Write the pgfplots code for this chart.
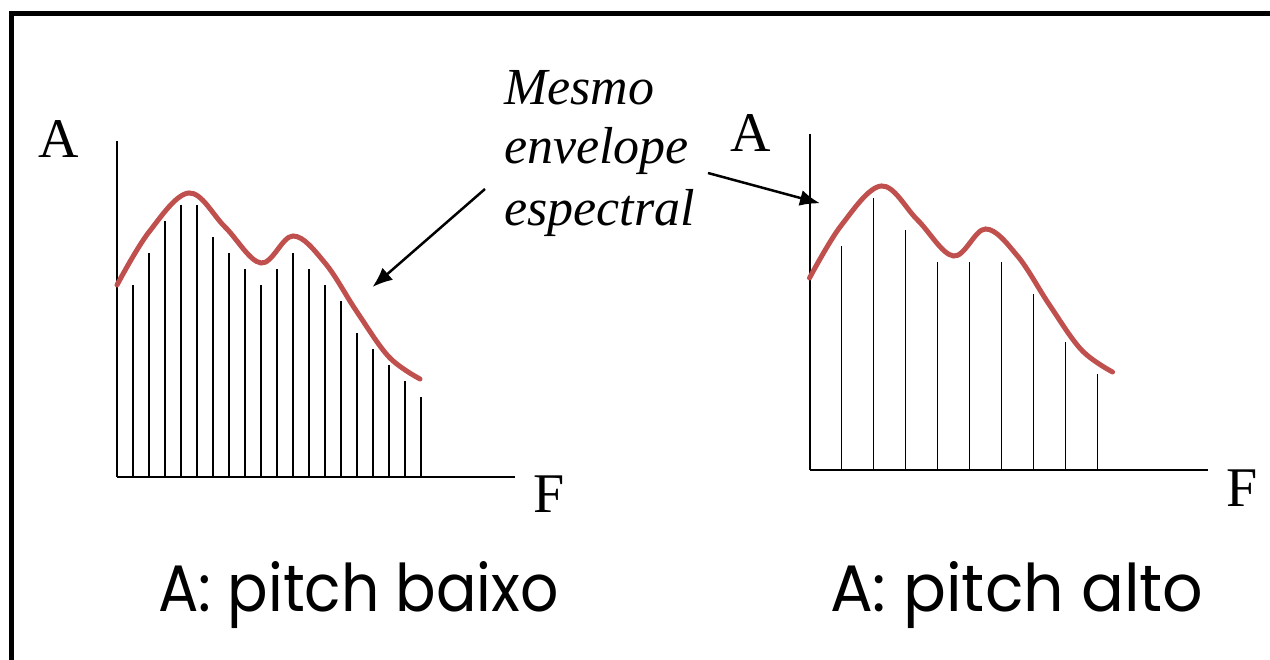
\documentclass[border=0pt]{standalone}
\usepackage{pgfplots}
\pgfplotsset{compat=1.18}
\usetikzlibrary{arrows.meta}
\usepackage{fontspec}
\setmainfont{Liberation Serif}
\newfontfamily\handfont{Poppins}
\definecolor{envred}{HTML}{C0504D}

\pgfplotsset{
  spectrum/.style={
    scale only axis, width=398bp, height=336bp,
    xmin=0, xmax=398, ymin=0, ymax=336,
    axis x line=bottom, axis y line=left,
    axis line style={-, line width=2bp, black},
    ticks=none, clip=false, anchor=south west,
  },
  harmonic/.style={ycomb, black, line width=1.8bp, mark=none},
  envelope/.style={smooth, tension=0.6, envred, line width=5bp, mark=none, line cap=round},
}

% spectral envelope shared by both spectra
\pgfplotstableread{
f   a
0   192
32  245
72  284
108 250
144 214
176 241
208 214
240 165
272 120
303 98
}\envtable

% harmonics, low pitch (spacing 16)
\pgfplotstableread{
f   a
16  192
32  224
48  256
64  272
80  272
96  240
112 224
128 208
144 192
160 208
176 224
192 208
208 192
224 176
240 144
256 128
272 112
288 96
304 80
}\lowtable

% harmonics, high pitch (spacing 32)
\pgfplotstableread{
f   a
32  224
64  272
96  240
128 208
160 208
192 208
224 176
256 128
288 96
}\hightable

\begin{document}
\begin{tikzpicture}[x=1bp, y=1bp]
\path[use as bounding box] (0,0) rectangle (1270,660);

% slide frame
\draw[line width=5bp, black] (11.7,-5) -- (11.7,646) -- (1275,646);

% low pitch spectrum
\begin{axis}[spectrum, at={(117,183)}]
  \addplot[harmonic] table[x=f, y=a] {\lowtable};
  \addplot[envelope] table[x=f, y=a] {\envtable};
\end{axis}

% high pitch spectrum
\begin{axis}[spectrum, at={(809.5,190)}]
  \addplot[harmonic] table[x=f, y=a] {\hightable};
  \addplot[envelope] table[x=f, y=a] {\envtable};
\end{axis}

% axis letters
\node[anchor=base, inner sep=0pt] at (59,502) {\fontsize{56bp}{60bp}\selectfont A};
\node[anchor=base, inner sep=0pt] at (549,147.3) {\fontsize{56bp}{60bp}\selectfont F};
\node[anchor=base, inner sep=0pt] at (751,508.3) {\fontsize{56bp}{60bp}\selectfont A};
\node[anchor=base, inner sep=0pt] at (1242,153.3) {\fontsize{56bp}{60bp}\selectfont F};

% annotation
\node[anchor=base west, inner sep=0pt] at (504,555) {\fontsize{52bp}{60bp}\selectfont\itshape Mesmo};
\node[anchor=base west, inner sep=0pt] at (504,496) {\fontsize{52bp}{60bp}\selectfont\itshape envelope};
\node[anchor=base west, inner sep=0pt] at (504,434) {\fontsize{52bp}{60bp}\selectfont\itshape espectral};
\draw[line width=2.5bp, -{Latex[length=20bp, width=16bp]}] (485,471) -- (372.5,373);
\draw[line width=2.5bp, -{Latex[length=20bp, width=16bp]}] (708,487) -- (820,456.7);

% captions
\node[anchor=base west, inner sep=0pt] at (158.3,48.3)
  {\resizebox{400bp}{50bp}{\handfont A: pitch baixo}};
\node[anchor=base west, inner sep=0pt] at (830,48.3)
  {\resizebox{373bp}{50bp}{\handfont A: pitch alto}};
\end{tikzpicture}
\end{document}
